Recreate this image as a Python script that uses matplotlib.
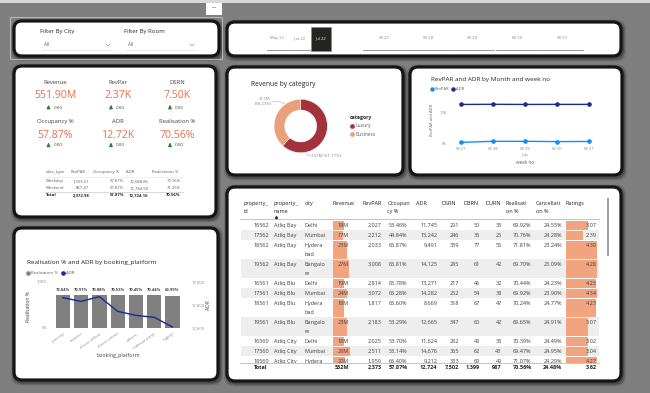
import matplotlib
matplotlib.use("Agg")
import matplotlib.pyplot as plt
from matplotlib.patches import FancyBboxPatch, Rectangle
import numpy as np

plt.rcParams['font.family'] = ['Open Sans', 'DejaVu Sans']

# ---------------- data ----------------
kpi_labels = ["Revenue", "RevPar", "DSRN", "Occupancy %", "ADR", "Realisation %"]
kpi_values = ["551.90M", "2.37K", "7.50K", "57.87%", "12.72K", "70.56%"]
kpi_deltas = ["0.00", "0.00", "0.00", "0.00", "0.00", "0.00"]

dt_header = ["date_type", "RevPAR", "Occupancy %", "ADR", "Realisation %"]
dt_rows = [["Weekday", "1,505.51", "57.87%", "12,688.86", "70.16%"],
           ["Weekend", "867.47", "57.87%", "12,784.50", "71.25%"],
           ["Total", "2,372.98", "57.87%", "12,724.16", "70.56%"]]

cat_names = ["Luxury", "Business"]
cat_revenue_m = [341, 211]
cat_pct = [61.77, 38.23]

weeks = ["W 27", "W 28", "W 29", "W 30", "W 31"]
week_revpar = [300, 650, 650, 560, 600]
week_adr = [12700, 12740, 12700, 12720, 12720]

months = ["May 22", "Jun 22", "Jul 22"]

platforms = ["journey", "tripster", "direct offline", "direct online", "others", "makeyourtrip", "logtrip"]
plat_realisation = [72.04, 70.91, 70.88, 70.53, 70.45, 70.44, 69.99]
plat_adr = [12861, 12829, 12870, 12742, 12707, 12690, 12606]

tbl_headers = [["property_", "id"], ["property_", "name"], ["city"], ["Revenue"], ["RevPAR"],
               ["Occupan", "cy %"], ["ADR"], ["DSRN"], ["DBRN"], ["DURN"],
               ["Realisati", "on %"], ["Cancellati", "on %"], ["Ratings"]]
prop_id = ["16562", "17562", "18562", "19562", "16561", "17561", "18561", "19561", "16560", "17560", "18560"]
prop_name = ["Atliq Bay"] * 4 + ["Atliq Blu"] * 4 + ["Atliq City"] * 3
prop_city = [["Delhi"], ["Mumbai"], ["Hydera", "bad"], ["Bangalo", "re"],
             ["Delhi"], ["Mumbai"], ["Hydera", "bad"], ["Bangalo", "re"],
             ["Delhi"], ["Mumbai"], ["Hydera", "bad"]]
prop_revenue_m = [18, 17, 23, 27, 19, 24, 18, 23, 18, 28, 20]
prop_revpar = ["2,027", "2,212", "2,033", "3,008", "2,814", "3,072", "1,817", "2,183", "2,025", "2,511", "1,959"]
prop_occ = ["53.46%", "44.84%", "65.87%", "65.81%", "65.78%", "66.28%", "65.60%", "53.29%", "53.70%", "53.14%", "66.40%"]
prop_adr = ["11,745", "15,242", "9,491", "14,125", "13,271", "14,282", "8,669", "12,665", "11,624", "14,676", "9,212"]
prop_dsrn = ["291", "246", "359", "285", "217", "252", "318", "347", "282", "365", "333"]
prop_dbrn = ["50", "36", "77", "61", "46", "54", "67", "60", "49", "62", "69"]
prop_durn = ["35", "25", "55", "42", "32", "38", "47", "42", "35", "43", "49"]
prop_real = ["69.92%", "70.76%", "71.81%", "69.70%", "70.44%", "69.92%", "70.24%", "69.65%", "70.39%", "69.47%", "71.07%"]
prop_canc = ["24.55%", "24.28%", "23.24%", "25.09%", "24.23%", "23.90%", "24.77%", "24.91%", "24.49%", "24.95%", "24.29%"]
prop_rating = [3.07, 2.39, 4.30, 4.28, 4.23, 4.34, 4.23, 3.07, 3.02, 3.04, 4.27]
tbl_total = ["Total", "552M", "2,373", "57.87%", "12,724", "7,502", "1,399", "987", "70.56%", "24.48%", "3.62"]

# ---------------- style ----------------
BG = '#7F7F7F'
GRAY_TXT = '#605E5C'
ORANGE = '#E4704A'
SALMON = '#F2A47F'
LUX = '#A3323D'
BUS = '#EBA07C'
BLUE = '#118DFF'
NAVY = '#1A2A94'

W, H = 650, 393
fig = plt.figure(figsize=(6.5, 3.93), dpi=100, facecolor=BG)
bg = fig.add_axes([0, 0, 1, 1])
bg.set_xlim(0, W)
bg.set_ylim(H, 0)
bg.axis('off')
bg.set_facecolor(BG)


def frect(x0, y0, x1, y1):
    return [x0 / W, 1 - y1 / H, (x1 - x0) / W, (y1 - y0) / H]


def card(x0, y0, x1, y1):
    for pad, a in [(4.0, 0.10), (3.0, 0.15), (2.0, 0.22)]:
        bg.add_patch(FancyBboxPatch((x0 - pad + 1, y0 - pad + 1.5), x1 - x0 + 2 * pad, y1 - y0 + 2 * pad,
                                    boxstyle="round,pad=0,rounding_size=10", fc='black', ec='none',
                                    alpha=a, zorder=1))
    bg.add_patch(FancyBboxPatch((x0, y0), x1 - x0, y1 - y0, boxstyle="round,pad=0,rounding_size=8",
                                fc='white', ec='#151515', lw=2.3, zorder=2))


def T(x, y, s, size=4.2, color=GRAY_TXT, ha='left', va='center', weight='normal', z=5, **kw):
    return bg.text(x, y, s, fontsize=size, color=color, ha=ha, va=va, fontweight=weight, zorder=z, **kw)


# top strip and "..." box
bg.add_patch(Rectangle((0, 0), W, 2.5, fc='#D8D8D8', ec='none', zorder=1))
bg.add_patch(Rectangle((206, 3), 16, 12, fc='white', ec='none', zorder=3))
T(214, 8.5, "···", size=5, color='#333333', ha='center')

# selection outline round filter card
bg.add_patch(Rectangle((10, 17), 212, 42, fc='none', ec='#B5B5B5', lw=0.8, zorder=1.5))

cards = [(14, 21, 219, 56), (227, 22, 621, 56), (14, 66, 216, 217), (227, 67, 403, 175),
         (410, 67, 622, 175), (14, 228, 218, 380), (227, 187, 621, 381)]
for c in cards:
    card(*c)

# ---------- filter card ----------
for x0, lab in [(40, "Filter By City"), (124, "Filter By Room")]:
    T(x0, 32, lab, size=4.3, color='#252423')
    T(x0 + 4, 45, "All", size=3.3, color='#605E5C')
    cx = x0 + 68
    bg.plot([cx - 2, cx, cx + 2], [44, 46, 44], color='#A0A0A0', lw=0.5, zorder=4)
    bg.plot([x0 + 2, x0 + 72], [50, 50], color='#E6E6E6', lw=0.5, zorder=4)

# ---------- month / week slicer ----------
month_x = [277.3, 299, 321]
for i, (mx, m) in enumerate(zip(month_x, months)):
    if i == 2:
        bg.add_patch(Rectangle((311, 27.3), 20, 23.4, fc='#252423', ec='#888', lw=0.4, zorder=4))
        T(mx, 38.3, m, size=3.0, color='white', ha='center')
    else:
        T(mx, 38.3, m, size=3.0, color='#8A8886', ha='center')
        bg.plot([mx - 10.5, mx + 10.5], [50, 50], color='#8A8886', lw=0.6, zorder=4)
week_x = [384.3, 428.3, 472.3, 517, 561.7]
for wx, w in zip(week_x, weeks):
    T(wx, 38.3, w, size=3.2, color='#8A8886', ha='center')
    bg.plot([wx - 21.5, wx + 21.5], [50, 50], color='#8A8886', lw=0.6, zorder=4)

# ---------- KPI card ----------
kx = [55.5, 118, 177]
ky = [(82.3, 95, 107.7), (121.7, 135, 145.5)]
for i, (lab, val, d) in enumerate(zip(kpi_labels, kpi_values, kpi_deltas)):
    r, c = divmod(i, 3)
    yl, yv, yd = ky[r]
    T(kx[c], yl, lab, size=4.2, color='#404040', ha='center')
    T(kx[c], yv, val, size=7.6, color=ORANGE, ha='center')
    bg.annotate('', xy=(kx[c] - 7, yd - 2.8), xytext=(kx[c] - 7, yd + 2.6),
                arrowprops=dict(arrowstyle='-|>', color='#2E7D32', lw=0.9, mutation_scale=4.5), zorder=5)
    T(kx[c] - 2, yd, d, size=3.2, color='#404040')

dt_left = [45.7, 70.7, 93.3, 126, 152.3]
dt_right = [None, 89.3, 124, 148.3, 180.7]
for j, h in enumerate(dt_header):
    T(dt_left[j], 172.3, h, size=3.1, color='#605E5C')
row_y = [181.3, 188, 195.3]
for r, row in enumerate(dt_rows):
    wt = 'bold' if r == 2 else 'normal'
    colr = '#252423' if r == 2 else '#605E5C'
    for j, v in enumerate(row):
        if j == 0:
            T(dt_left[0], row_y[r], v, size=3.1, color=colr, weight=wt)
        else:
            T(dt_right[j], row_y[r], v, size=3.1, color=colr, weight=wt, ha='right')
bg.plot([44, 183], [176.8, 176.8], color='#E3E3E3', lw=0.4, zorder=4)
bg.plot([44, 183], [191.8, 191.8], color='#BDBDBD', lw=0.4, zorder=4)

# ---------- donut ----------
T(251, 84, "Revenue by category", size=4.8, color='#252423')
dax = fig.add_axes(frect(270.7, 96, 330.7, 156))
dax.pie(cat_revenue_m, colors=[LUX, BUS], startangle=90, counterclock=False,
        wedgeprops=dict(width=0.4, edgecolor='white', linewidth=0.3))
dax.set_xlim(-1.125, 1.125)
dax.set_ylim(-1.125, 1.125)
dax.set_aspect('equal')
dax.axis('off')
T(270, 99.3, f"{cat_revenue_m[1]}M", size=3.2, color='#8A8886', ha='right')
T(272, 104.3, f"({cat_pct[1]:.2f}%)", size=3.2, color='#8A8886', ha='right')
bg.plot([272.5, 279, 285], [101.5, 101.5, 104], color='#B0B0B0', lw=0.4, zorder=4)
T(311, 156, f"{cat_revenue_m[0]}M ({cat_pct[0]:.2f}%)", size=3.2, color='#8A8886')
bg.plot([305, 308, 310.5], [151.5, 155, 155.5], color='#B0B0B0', lw=0.4, zorder=4)
T(350, 117.7, "category", size=3.6, color='#252423', weight='bold')
for k, (nm, col) in enumerate(zip(cat_names, [LUX, BUS])):
    yy = 125.7 + 8.3 * k
    bg.plot([352.3], [yy], 'o', ms=2.4, color=col, zorder=5)
    T(355.3, yy, nm, size=3.5, color='#605E5C')

# ---------- RevPAR / ADR line ----------
T(430.7, 79, "RevPAR and ADR by Month and week no", size=4.6, color='#252423')
bg.plot([432.3], [89.3], 'o', ms=2.2, color=BLUE, zorder=5)
T(435, 89.3, "RevPAR", size=3.0, color='#605E5C')
bg.plot([453.3], [89.3], 'o', ms=2.2, color=NAVY, zorder=5)
T(456, 89.3, "ADR", size=3.0, color='#605E5C')
lax = fig.add_axes(frect(451.1, 100, 598.6, 143.3))
xw = np.arange(len(weeks))
lax.plot(xw, week_adr, color=NAVY, lw=1.0, marker='o', ms=2.3, clip_on=False)
lax.plot(xw, week_revpar, color=BLUE, lw=1.0, marker='o', ms=2.3, clip_on=False)
lax.set_xlim(-0.3, len(weeks) - 0.7)
lax.set_ylim(0, 14150)
lax.set_facecolor('none')
for s in lax.spines.values():
    s.set_visible(False)
lax.set_yticks([0, 10000])
lax.set_yticklabels(["0K", "10K"])
lax.set_xticks(xw)
lax.set_xticklabels(weeks)
lax.tick_params(length=0, labelsize=3.0, colors='#8A8886', pad=3)
T(525, 154.7, "July", size=3.0, color='#8A8886', ha='center')
T(525, 162.3, "week no", size=3.3, color='#605E5C', ha='center')
T(432.3, 120, "RevPAR and ADR", size=3.0, color='#605E5C', ha='center', rotation=90)

# ---------- booking platform combo ----------
T(26.7, 262.7, "Realisation % and ADR by booking_platform", size=4.6, color='#252423')
bg.plot([28.3], [272.7], 'o', ms=2.3, color='#808080', zorder=5)
T(31, 272.7, "Realisation %", size=3.2, color='#605E5C')
bg.plot([62.7], [272.7], 'o', ms=2.3, color=NAVY, zorder=5)
T(65.7, 272.7, "ADR", size=3.2, color='#605E5C')
bax = fig.add_axes(frect(51.88, 281.7, 183.5, 327.7))
xp = np.arange(len(platforms))
bax.bar(xp, plat_realisation, width=0.78, color='#808080')
for xi, v in zip(xp, plat_realisation):
    bax.text(xi, v + 11, f"{v:.2f}%", ha='center', va='center', fontsize=3.0, color='#404040', fontweight='bold')
bax.set_xlim(-0.6, len(platforms) - 0.4)
bax.set_ylim(0, 100)
bax.set_facecolor('none')
for s in bax.spines.values():
    s.set_visible(False)
bax.set_yticks([0, 100])
bax.set_yticklabels(["0%", "100%"])
bax.set_xticks(xp)
bax.set_xticklabels(platforms, rotation=35, ha='right', rotation_mode='anchor')
bax.tick_params(length=0, labelsize=3.0, colors='#8A8886', pad=3)
bax2 = bax.twinx()
bax2.plot(xp, plat_adr, color=NAVY, lw=1.0)
bax2.set_ylim(12600, 13000)
bax2.set_yticks([12600, 12800, 13000])
bax2.set_yticklabels(["12,600", "12,800", "13,000"])
bax2.tick_params(length=0, labelsize=3.0, colors='#8A8886', pad=6)
for s in bax2.spines.values():
    s.set_visible(False)
T(28.3, 306.7, "Realisation %", size=3.6, color='#404040', ha='center', rotation=90)
T(209, 305, "ADR", size=3.6, color='#404040', ha='center', rotation=90)
T(118.3, 355, "booking_platform", size=3.8, color='#404040', ha='center')

# ---------- table ----------
TS = 4.0
hdr_left = [243.3, 274, 304.3, 332.7, 362.7, 387.3, 416, 441.7, 464, 485, 506, 535.7, 565.7]
for hx, hl in zip(hdr_left, tbl_headers):
    for k, line in enumerate(hl):
        T(hx, 203.7 + 8 * k, line, size=TS, color='#252423')
bg.plot([275.7], [217.3], marker='^', ms=1.4, color='#252423', zorder=5)
bg.plot([240, 599], [219.3, 219.3], color='#9DC3E6', lw=0.6, zorder=6)

right_cols = [349, 381.7, 407.7, 437.3, 459.3, 480.3, 501.7, 531.7, 562.3, 596.7]
top = 220.0
for i in range(len(prop_id)):
    nl = len(prop_city[i])
    h = 10 if nl == 1 else 19
    y1 = top + 5.2
    if i % 2 == 1:
        bg.add_patch(Rectangle((241, top), 358, h, fc='#EEEEEE', ec='none', zorder=3))
    bg.add_patch(Rectangle((332.7, top + 0.5), prop_revenue_m[i] / 28 * 17, h - 1, fc=SALMON, ec='none', zorder=3.5))
    bg.add_patch(Rectangle((566, top + 0.5), prop_rating[i] / 4.34 * 31, h - 1, fc=SALMON, ec='none', zorder=3.5))
    T(269, y1, prop_id[i], size=TS, color='#404040', ha='right')
    T(274, y1, prop_name[i], size=TS, color='#404040')
    for k, cl in enumerate(prop_city[i]):
        T(304.3, y1 + 9 * k, cl, size=TS, color='#404040')
    vals = [f"{prop_revenue_m[i]}M", prop_revpar[i], prop_occ[i], prop_adr[i], prop_dsrn[i],
            prop_dbrn[i], prop_durn[i], prop_real[i], prop_canc[i], f"{prop_rating[i]:.2f}"]
    for rx, v in zip(right_cols, vals):
        T(rx, y1, v, size=TS, color='#404040', ha='right')
    top += h

# mask the clipped part of the last row, then total row
bg.add_patch(Rectangle((232, 362.6), 380, 14, fc='white', ec='none', zorder=8))
bg.plot([240, 599], [363, 363], color='#9DC3E6', lw=0.6, zorder=9)
T(254.3, 367.5, tbl_total[0], size=TS, color='#252423', weight='bold', z=10)
for rx, v in zip(right_cols, tbl_total[1:]):
    T(rx, 367.5, v, size=TS, color='#252423', weight='bold', ha='right', z=10)
# scrollbar
bg.add_patch(Rectangle((607.3, 198), 1.8, 58, fc='#A0A0A0', ec='none', zorder=6))

fig.savefig("out.png", dpi=100, facecolor=BG)
